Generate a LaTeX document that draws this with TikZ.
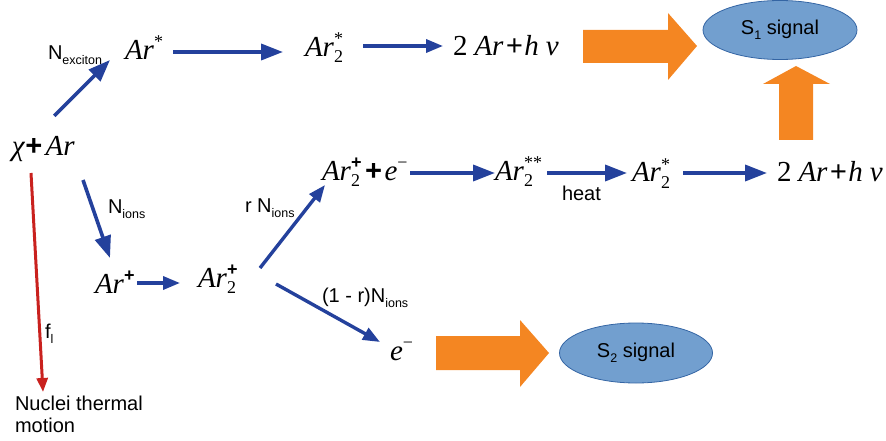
\documentclass[tikz,border=0pt]{standalone}
\usepackage{fontspec}
\setmainfont{Liberation Sans}
\newfontfamily\mfont{Liberation Serif}
\newfontfamily\lfont{Liberation Sans}
\usetikzlibrary{arrows.meta,shapes.geometric}
\definecolor{ablue}{RGB}{36,65,156}
\definecolor{aorange}{RGB}{244,134,34}
\definecolor{ared}{RGB}{201,33,30}
\definecolor{sigfill}{RGB}{114,159,207}
\definecolor{sigborder}{RGB}{52,101,164}
\newcommand{\mtxt}{\mfont\itshape\fontsize{29}{32}\selectfont}
\newcommand{\scrf}{\fontsize{18}{18}\selectfont\upshape}
\newcommand{\bplus}{{\lfont\bfseries +}}
\newcommand{\rplus}{{\lfont +}}
\newsavebox\supbx
\newsavebox\subbx
\newcommand{\sps}[1]{\/\raisebox{12pt}{\scrf #1}}
\newcommand{\spsb}[2]{\/\sbox\supbx{\scrf #1}\sbox\subbx{\scrf #2}\ifdim\wd\supbx>\wd\subbx\rlap{\raisebox{-6pt}{\usebox\subbx}}\raisebox{12pt}{\usebox\supbx}\else\rlap{\raisebox{12pt}{\usebox\supbx}}\raisebox{-6pt}{\usebox\subbx}\fi}
\newcommand{\lsub}[1]{\raisebox{-5pt}{\fontsize{12.5}{13}\selectfont #1}}
\newcommand{\photons}{{\upshape 2}\hspace{7pt}Ar\hspace{2pt}\rplus\hspace{2pt}h\hspace{7pt}ν}
\tikzset{
  mt/.style={anchor=base west, inner sep=0pt, outer sep=0pt, font=\mtxt},
  lb/.style={anchor=base west, inner sep=0pt, outer sep=0pt, font=\lfont\fontsize{20}{22}\selectfont},
  barrow/.style={draw=ablue, line width=3.6pt, -{Triangle[length=22pt,width=16pt]}},
  sbarrow/.style={draw=ablue, line width=3.4pt, -{Triangle[length=17pt,width=13pt]}},
  rarrow/.style={draw=ared, line width=3pt, -{Triangle[length=14pt,width=11pt]}},
  sig/.style={ellipse, draw=sigborder, fill=sigfill, line width=0.8pt, inner sep=0pt,
    font=\lfont\fontsize{20}{22}\selectfont},
  bigarrow/.style={fill=aorange, draw=none}
}
\begin{document}
\begin{tikzpicture}[x=1pt,y=-1pt]
\useasboundingbox (0,0) rectangle (886,441);
% math nodes
\node[mt] (chi) at (12,155) {χ\bplus\hspace{4pt}Ar};
\node[mt] (ars) at (125,60) {Ar\sps{*}};
\node[mt] (ar2s) at (305,57) {Ar\spsb{*}{2}};
\node[mt] (ph1) at (453,56) {\photons};
\node[mt] (arp) at (95,293) {Ar\sps{\bplus}};
\node[mt] (ar2p) at (198,287) {Ar\spsb{\bplus}{2}};
\node[mt] (ar2pe) at (322,180) {Ar\spsb{\bplus}{2}\hspace{3pt}\bplus\hspace{3pt}e\sps{−}};
\node[mt] (ar2ss) at (495,180) {Ar\spsb{**}{2}};
\node[mt] (ar2s2) at (632,182) {Ar\spsb{*}{2}};
\node[mt] (ph2) at (777,182) {\photons};
\node[mt] (em) at (390,360) {e\sps{−}};
% labels
\node[lb] (lexc) at (48,60) {N\lsub{exciton}};
\node[lb] (lion) at (108,213) {N\lsub{ions}};
\node[lb] (lrn) at (245,212) {r N\lsub{ions}};
\node[lb] (l1r) at (322,302) {(1 - r)N\lsub{ions}};
\node[lb] (lheat) at (562,200) {heat};
\node[lb] (lfl) at (45,338) {f\lsub{l}};
\node[lb, anchor=north west, align=left] (lnuc) at (15,396) {Nuclei thermal\\motion};
% signals
\node[sig, minimum width=154pt, minimum height=59pt] (s1) at (780,30) {S\lsub{1} signal};
\node[sig, minimum width=153pt, minimum height=60pt] (s2) at (636,353) {S\lsub{2} signal};
% orange block arrows
\fill[bigarrow] (583,30) -- (668,30) -- (668,13) -- (697,46) -- (668,80) -- (668,63) -- (583,63) -- cycle;
\fill[bigarrow] (436,336) -- (520,336) -- (520,320) -- (549,353) -- (520,387) -- (520,370) -- (436,370) -- cycle;
\fill[bigarrow] (779,140) -- (779,84) -- (763,84) -- (796,66) -- (830,84) -- (813,84) -- (813,140) -- cycle;
% blue connectors
\draw[barrow] ([shift={(11,-20)}]chi.north) -- ([shift={(-15,0)}]ars.south west);
\draw[barrow] ([shift={(48,-8)}]ars.base west) -- ([shift={(-22,-5)}]ar2s.base west);
\draw[sbarrow] ([shift={(58,-11)}]ar2s.base west) -- ([shift={(-10,-10)}]ph1.base west);
\draw[barrow] ([shift={(71,25)}]chi.base west) -- ([shift={(15,-35)}]arp.base west);
\draw[sbarrow] ([shift={(42,-10)}]arp.base west) -- ([shift={(-18,-4)}]ar2p.base west);
\draw[sbarrow] ([shift={(62,-19)}]ar2p.base west) -- ([shift={(3,5)}]ar2pe.base west);
\draw[sbarrow] ([shift={(78,-3)}]ar2p.base west) -- ([shift={(-10,-18)}]em.base west);
\draw[barrow] ([shift={(88,-7)}]ar2pe.base west) -- ([shift={(0,-7)}]ar2ss.base west);
\draw[barrow] ([shift={(52,-7)}]ar2ss.base west) -- ([shift={(-5,-9)}]ar2s2.base west);
\draw[barrow] ([shift={(51,-9)}]ar2s2.base west) -- ([shift={(-10,-9)}]ph2.base west);
% red connector
\draw[rarrow] ([shift={(19,18)}]chi.base west) -- ([shift={(28,-4)}]lnuc.north west);
\end{tikzpicture}
\end{document}
